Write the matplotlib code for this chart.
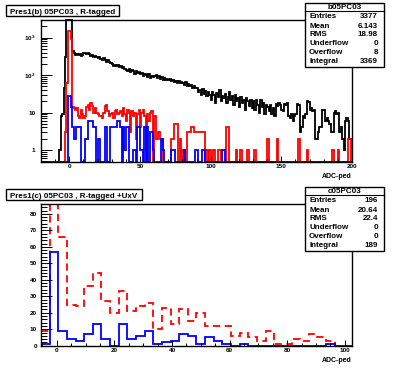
import matplotlib.pyplot as plt
import numpy as np
from matplotlib.patches import Rectangle
from matplotlib.lines import Line2D
from matplotlib.ticker import LogLocator, MultipleLocator, NullFormatter, FixedLocator

plt.rcParams["font.family"] = "Liberation Sans"
plt.rcParams["font.weight"] = "bold"
plt.rcParams["mathtext.fontset"] = "custom"
plt.rcParams["mathtext.rm"] = "Liberation Sans:bold"
plt.rcParams["mathtext.bf"] = "Liberation Sans:bold"

# ---- top pad: b05PC03, 1-unit bins from -20 to 200 ----
edges_b = np.arange(-20, 201, 1)
black_b = [
    0, 0, 0, 0, 0, 0, 0, 0, 0, 0,
    0, 0, 0, 1, 8, 9, 45, 300, 4000, 9000,
    9000, 4000, 450, 390, 350, 370, 340, 360, 330, 350,
    380, 400, 370, 390, 360, 330, 340, 310, 320, 300,
    290, 310, 270, 260, 280, 250, 230, 260, 220, 210,
    200, 180, 190, 170, 185, 160, 175, 150, 165, 145,
    140, 130, 145, 120, 135, 125, 110, 130, 115, 120,
    105, 115, 95, 110, 100, 90, 105, 85, 95, 90,
    95, 100, 85, 92, 80, 88, 75, 82, 72, 78,
    75, 80, 68, 74, 66, 70, 62, 68, 60, 64,
    62, 56, 64, 52, 58, 50, 55, 46, 52, 44,
    44, 36, 40, 30, 42, 32, 38, 28, 36, 30,
    22, 36, 30, 18, 34, 26, 40, 20, 28, 24,
    32, 18, 26, 36, 22, 28, 16, 30, 20, 24,
    14, 26, 18, 22, 12, 24, 20, 15, 22, 13,
    20, 12, 22, 16, 10, 21, 14, 18, 9, 16,
    14, 11, 16, 9, 13, 8, 17, 15, 18, 16,
    12, 11, 17, 16, 18, 8, 7, 9, 6, 8,
    9, 17, 16, 3, 4, 8, 7, 9, 20, 19,
    12, 13, 11, 12, 2, 2, 3, 4, 4, 12,
    12, 6, 7, 6, 5, 3, 3, 10, 11, 9,
    10, 3, 4, 2, 1, 6, 7, 6, 2, 2,
]
red_b = [
    0, 0, 0, 0, 0, 0, 0, 0, 0, 0,
    0, 0, 0, 0, 0, 0, 0, 3, 60, 1500,
    1500, 900, 14, 13, 12, 13, 8, 7, 12, 9,
    7, 8, 14, 16, 12, 18, 15, 10, 13, 10,
    9, 8, 8, 7, 10, 15, 16, 11, 8, 9,
    10, 7, 11, 12, 9, 10, 11, 8, 13, 9,
    6, 12, 10, 3, 11, 8, 10, 2, 9, 12,
    4, 10, 12, 8, 1, 9, 6, 10, 11, 0,
    8, 2, 2, 3, 2, 2, 0, 0, 0, 0,
    0, 0, 2, 2, 5, 5, 5, 0, 2, 0,
    1, 1, 0, 3, 3, 3, 4, 4, 3, 3,
    3, 3, 3, 3, 3, 3, 0, 1, 0, 1,
    0, 0, 1, 0, 0, 1, 1, 0, 0, 0,
    0, 4, 4, 0, 0, 0, 0, 0, 1, 0,
    0, 1, 0, 0, 0, 0, 1, 0, 0, 0,
    0, 1, 0, 0, 0, 0, 0, 0, 0, 0,
    2, 0, 0, 0, 0, 0, 0, 2, 0, 0,
    0, 0, 0, 0, 0, 0, 0, 0, 0, 0,
    0, 0, 2, 0, 0, 0, 0, 0, 1, 0,
    0, 0, 0, 0, 0, 0, 0, 0, 0, 0,
    0, 0, 0, 0, 0, 0, 1, 0, 0, 0,
    1, 0, 0, 0, 0, 0, 0, 2, 2, 0,
]
blue_b = [
    0, 0, 0, 0, 0, 0, 0, 0, 0, 0,
    0, 0, 0, 0, 0, 0, 0, 0, 0, 28,
    28, 14, 4, 2, 2, 4, 4, 4, 0, 0,
    0, 2, 2, 6, 6, 6, 6, 4, 4, 0,
    2, 2, 0, 0, 0, 4, 4, 0, 0, 4,
    4, 4, 4, 4, 6, 6, 4, 0, 4, 1,
    4, 4, 0, 0, 0, 1, 1, 0, 4, 4,
    1, 1, 0, 4, 0, 4, 0, 3, 3, 1,
    0, 0, 0, 0, 0, 2, 1, 0, 0, 0,
    0, 0, 1, 1, 1, 0, 0, 0, 0, 0,
    0, 1, 0, 0, 0, 0, 0, 0, 0, 1,
    1, 0, 0, 0, 1, 1, 0, 0, 0, 0,
    0, 0, 0, 0, 0, 0, 0, 0, 1, 1,
] + [0] * 90

# ---- bottom pad: c05PC03, 3-unit bins from -5.5 to 102.5 ----
edges_c = np.arange(-5.5, 103, 3)
red_c = [9, 150, 66, 25, 24, 36, 44, 27, 20, 33,
         21, 24, 26, 10, 23, 13, 22, 15, 20, 12,
         12, 12, 6, 8, 5, 3, 9, 1, 1, 4,
         3, 7, 5, 3, 0, 0]
blue_c = [1, 57, 9, 4, 3, 7, 13, 4, 0, 13,
          4, 6, 9, 1, 2, 3, 7, 6, 1, 5,
          3, 1, 0, 1, 0, 0, 0, 0, 0, 0,
          0, 0, 0, 1, 0, 0]

titles = ["Pres1(b) 05PC03 , R-tagged", "Pres1(c) 05PC03 , R-tagged +UxV"]
stat_names = ["b05PC03", "c05PC03"]
stat_labels = ["Entries", "Mean", "RMS", "Underflow", "Overflow", "Integral"]
stat_values = [["3377", "6.143", "18.98", "0", "8", "3369"],
               ["196", "20.64", "22.4", "0", "0", "189"]]

W, H = 396, 368
fig = plt.figure(figsize=(W / 100, H / 100), dpi=100)


def fx(x):
    return x / W


def fy(y):
    return 1 - y / H


ax1 = fig.add_axes([fx(41), fy(162), fx(352) - fx(41), fy(20) - fy(162)])
ax2 = fig.add_axes([fx(41), fy(345.7), fx(352) - fx(41), fy(204) - fy(345.7)])

ymin, ymax = 0.48, 2950
for vals, col in [(black_b, "black"), (red_b, "red"), (blue_b, "blue")]:
    v = np.clip(np.array(vals, dtype=float), ymin, ymax)
    ax1.stairs(v, edges_b, baseline=None, color=col, lw=1.3, clip_on=False)
ax1.set_yscale("log")
ax1.set_xlim(-20, 200)
ax1.set_ylim(ymin, ymax)
ax1.yaxis.set_major_locator(FixedLocator([1, 10, 100, 1000]))
ax1.set_yticklabels(["1", "10", r"$10^{2}$", r"$10^{3}$"])
ax1.yaxis.set_minor_locator(LogLocator(base=10, subs=np.arange(2, 10)))
ax1.yaxis.set_minor_formatter(NullFormatter())
ax1.xaxis.set_major_locator(MultipleLocator(50))
ax1.xaxis.set_minor_locator(MultipleLocator(10))

ax2.stairs(red_c, edges_c, baseline=None, color="red", lw=1.3, linestyle=(0, (4, 2.5)))
ax2.stairs(blue_c, edges_c, baseline=None, color="blue", lw=1.3)
ax2.set_xlim(-5.5, 102.5)
ax2.set_ylim(0, 86)
ax2.xaxis.set_major_locator(MultipleLocator(20))
ax2.xaxis.set_minor_locator(MultipleLocator(5))
ax2.yaxis.set_major_locator(MultipleLocator(10))
ax2.yaxis.set_minor_locator(MultipleLocator(2))

for ax, ypad in [(ax1, 4), (ax2, 3)]:
    for sp in ax.spines.values():
        sp.set_linewidth(1.0)
    ax.tick_params(axis="x", which="major", direction="in", length=4, width=0.7,
                   labelsize=4.6, pad=1.5)
    ax.tick_params(axis="x", which="minor", direction="in", length=2, width=0.7)
    ax.tick_params(axis="y", which="major", direction="in", length=8, width=0.7,
                   labelsize=4.6, pad=ypad)
    ax.tick_params(axis="y", which="minor", direction="in", length=4, width=0.7)

# title boxes and stats boxes
rows_base = [18.3, 27.5, 36.3, 45.3, 54.3, 63.0]
for i, off in enumerate([0, 184]):
    tx1 = 119 if i == 0 else 142
    fig.add_artist(Rectangle((fx(6), fy(off + 16)), fx(tx1) - fx(6), fy(off + 5) - fy(off + 16),
                             transform=fig.transFigure, facecolor="white",
                             edgecolor="black", lw=1.0))
    fig.text(fx((6 + tx1) / 2), fy(off + 13.8), titles[i], ha="center", va="baseline",
             fontsize=5.8, fontweight="bold")

    fig.add_artist(Rectangle((fx(305), fy(off + 67.3)), fx(384) - fx(305),
                             fy(off + 3.3) - fy(off + 67.3),
                             transform=fig.transFigure, facecolor="white",
                             edgecolor="black", lw=1.0))
    fig.add_artist(Line2D([fx(305), fx(384)], [fy(off + 10.9), fy(off + 10.9)],
                          transform=fig.transFigure, color="black", lw=0.8))
    fig.text(fx(344.5), fy(off + 9.4), stat_names[i], ha="center", va="baseline",
             fontsize=5.8, fontweight="bold")
    for lab, val, yy in zip(stat_labels, stat_values[i], rows_base):
        fig.text(fx(309), fy(off + yy), lab, ha="left", va="baseline", fontsize=5.8,
                 fontweight="bold")
        fig.text(fx(378), fy(off + yy), val, ha="right", va="baseline", fontsize=5.8,
                 fontweight="bold")

    fig.text(fx(352), fy(off + 177.5), "ADC-ped", ha="right", va="baseline", fontsize=5.0,
             fontweight="bold")

fig.savefig("out.png", dpi=100)
